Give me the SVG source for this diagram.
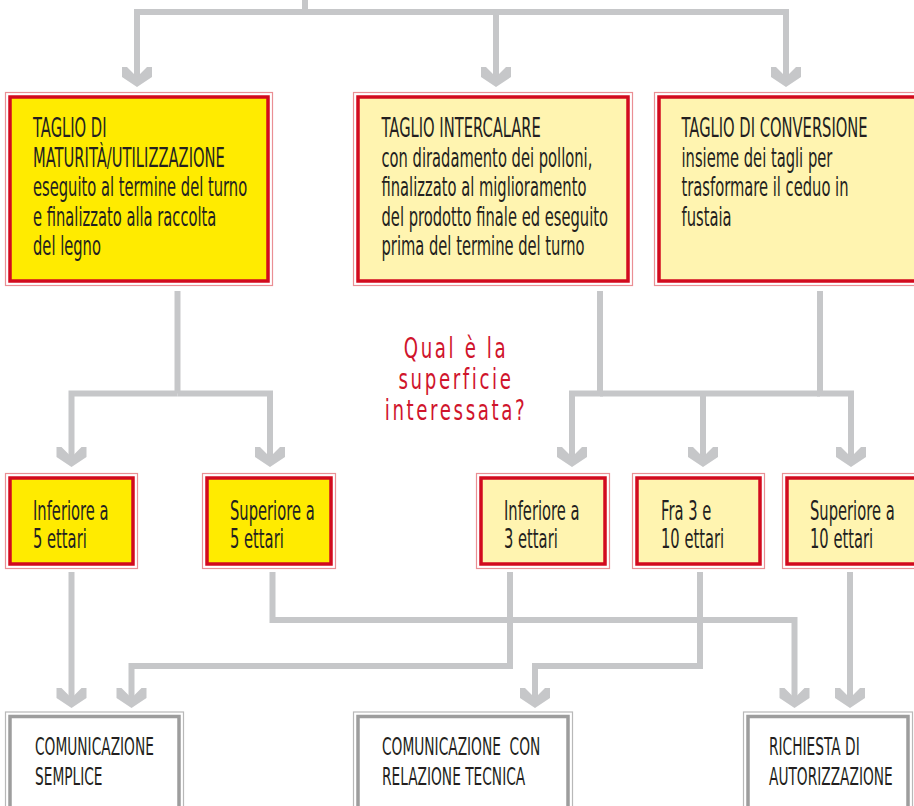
<svg xmlns="http://www.w3.org/2000/svg" width="914" height="806" viewBox="0 0 914 806">
<style>
.c{fill:none;stroke:#c6c7c9;stroke-width:6;stroke-linejoin:miter;marker-end:url(#ah)}
.cl{fill:none;stroke:#c6c7c9;stroke-width:6}
.pk{fill:none;stroke:#ea8f94;stroke-width:1.2}
.rd{stroke:#d20a1e;stroke-width:3.5}
.y1{fill:#ffeb00}
.y2{fill:#fff4b0}
.go{fill:none;stroke:#b8b8b8;stroke-width:1.2}
.gi{fill:#ffffff;stroke:#9d9d9d;stroke-width:3.5}
.t{font-family:"DejaVu Sans","Liberation Sans",sans-serif;font-size:27px;fill:#231f20}
.tb{font-family:"DejaVu Sans","Liberation Sans",sans-serif;font-size:25px;fill:#231f20}
.q{font-family:"DejaVu Sans","Liberation Sans",sans-serif;font-size:28px;fill:#d0142c;letter-spacing:4px}
</style>
<defs>
<marker id="ah" markerUnits="userSpaceOnUse" viewBox="-22 -16 24 32" refX="-8" refY="0" markerWidth="24" markerHeight="32" orient="auto" overflow="visible">
<polygon points="-20,-15 -20,-10 -10,0 -20,10 -20,15 -10,15 0,0 -10,-15" fill="#c6c7c9"/>
</marker>
</defs>
<g id="connectors">
<path class="cl" d="M305,0 V15"/>
<path class="c" d="M305,12 H137 V79"/>
<path class="c" d="M305,12 H786 V79"/>
<path class="c" d="M496,12 V79"/>
<path class="cl" d="M177.5,291 V393.5"/>
<path class="c" d="M177.5,393.5 H71.5 V459"/>
<path class="c" d="M177.5,393.5 H270 V459"/>
<path class="c" d="M600,291 V393.5 H572 V459"/>
<path class="c" d="M820,291 V393.5 H851 V459"/>
<path class="cl" d="M600,393.5 H820"/>
<path class="c" d="M703,393.5 V459"/>
<path class="c" d="M71.5,572 V700"/>
<path class="c" d="M272.5,572 V620 H794.5 V700"/>
<path class="c" d="M510,572 V666 H131.5 V700"/>
<path class="c" d="M700,572 V666 H535 V700"/>
<path class="c" d="M850,572 V700"/>
</g>
<g id="taglio-maturita">
<rect class="pk" x="5.5" y="92.5" width="267" height="193"/>
<rect class="rd y1" x="10" y="97" width="258" height="184"/>
<text class="t" transform="translate(33,0) scale(0.545,1)"><tspan x="0" y="137.5">TAGLIO DI</tspan><tspan x="0" y="167">MATURITÀ/UTILIZZAZIONE</tspan><tspan x="0" y="196.5">eseguito al termine del turno</tspan><tspan x="0" y="226">e finalizzato alla raccolta</tspan><tspan x="0" y="255.5">del legno</tspan></text>
</g>
<g id="taglio-intercalare">
<rect class="pk" x="353.5" y="92.5" width="279" height="193"/>
<rect class="rd y2" x="358" y="97" width="270" height="184"/>
<text class="t" transform="translate(381.5,0) scale(0.545,1)"><tspan x="0" y="137.5">TAGLIO INTERCALARE</tspan><tspan x="0" y="167">con diradamento dei polloni,</tspan><tspan x="0" y="196.5">finalizzato al miglioramento</tspan><tspan x="0" y="226">del prodotto finale ed eseguito</tspan><tspan x="0" y="255.5">prima del termine del turno</tspan></text>
</g>
<g id="taglio-conversione">
<rect class="pk" x="654.5" y="92.5" width="275" height="193"/>
<rect class="rd y2" x="659" y="97" width="266" height="184"/>
<text class="t" transform="translate(681.5,0) scale(0.545,1)"><tspan x="0" y="137.5">TAGLIO DI CONVERSIONE</tspan><tspan x="0" y="167">insieme dei tagli per</tspan><tspan x="0" y="196.5">trasformare il ceduo in</tspan><tspan x="0" y="226">fustaia</tspan></text>
</g>
<g id="domanda">
<text class="q" text-anchor="middle" transform="translate(456,0) scale(0.65,1)"><tspan x="0" y="358">Qual è la</tspan><tspan x="0" y="389">superficie</tspan><tspan x="0" y="420">interessata?</tspan></text>
</g>
<g id="inferiore-5">
<rect class="pk" x="5.5" y="473.5" width="132" height="95"/>
<rect class="rd y1" x="10" y="478" width="123" height="86"/>
<text class="t" transform="translate(33,0) scale(0.545,1)"><tspan x="0" y="520">Inferiore a</tspan><tspan x="0" y="548.5">5 ettari</tspan></text>
</g>
<g id="superiore-5">
<rect class="pk" x="202.5" y="473.5" width="133" height="95"/>
<rect class="rd y1" x="207" y="478" width="124" height="86"/>
<text class="t" transform="translate(230,0) scale(0.545,1)"><tspan x="0" y="520">Superiore a</tspan><tspan x="0" y="548.5">5 ettari</tspan></text>
</g>
<g id="inferiore-3">
<rect class="pk" x="476.5" y="473.5" width="133" height="95"/>
<rect class="rd y2" x="481" y="478" width="124" height="86"/>
<text class="t" transform="translate(504,0) scale(0.545,1)"><tspan x="0" y="520">Inferiore a</tspan><tspan x="0" y="548.5">3 ettari</tspan></text>
</g>
<g id="fra-3-10">
<rect class="pk" x="632.5" y="473.5" width="132" height="95"/>
<rect class="rd y2" x="637" y="478" width="123" height="86"/>
<text class="t" transform="translate(661,0) scale(0.545,1)"><tspan x="0" y="520">Fra 3 e</tspan><tspan x="0" y="548.5">10 ettari</tspan></text>
</g>
<g id="superiore-10">
<rect class="pk" x="782.5" y="473.5" width="145" height="95"/>
<rect class="rd y2" x="787" y="478" width="136" height="86"/>
<text class="t" transform="translate(810,0) scale(0.545,1)"><tspan x="0" y="520">Superiore a</tspan><tspan x="0" y="548.5">10 ettari</tspan></text>
</g>
<g id="comunicazione-semplice">
<rect class="go" x="5.5" y="712" width="178" height="110"/>
<rect class="gi" x="10" y="716.5" width="169" height="110"/>
<text class="tb" transform="translate(35,0) scale(0.55,1)"><tspan x="0" y="755">COMUNICAZIONE</tspan><tspan x="0" y="785">SEMPLICE</tspan></text>
</g>
<g id="comunicazione-relazione">
<rect class="go" x="353.5" y="712" width="219" height="110"/>
<rect class="gi" x="358" y="716.5" width="210" height="110"/>
<text class="tb" transform="translate(382,0) scale(0.55,1)" xml:space="preserve"><tspan x="0" y="755">COMUNICAZIONE  CON</tspan><tspan x="0" y="785">RELAZIONE TECNICA</tspan></text>
</g>
<g id="richiesta-autorizzazione">
<rect class="go" x="743.5" y="712" width="169" height="110"/>
<rect class="gi" x="748" y="716.5" width="160" height="110"/>
<text class="tb" transform="translate(769,0) scale(0.55,1)"><tspan x="0" y="755">RICHIESTA DI</tspan><tspan x="0" y="785">AUTORIZZAZIONE</tspan></text>
</g>
</svg>
